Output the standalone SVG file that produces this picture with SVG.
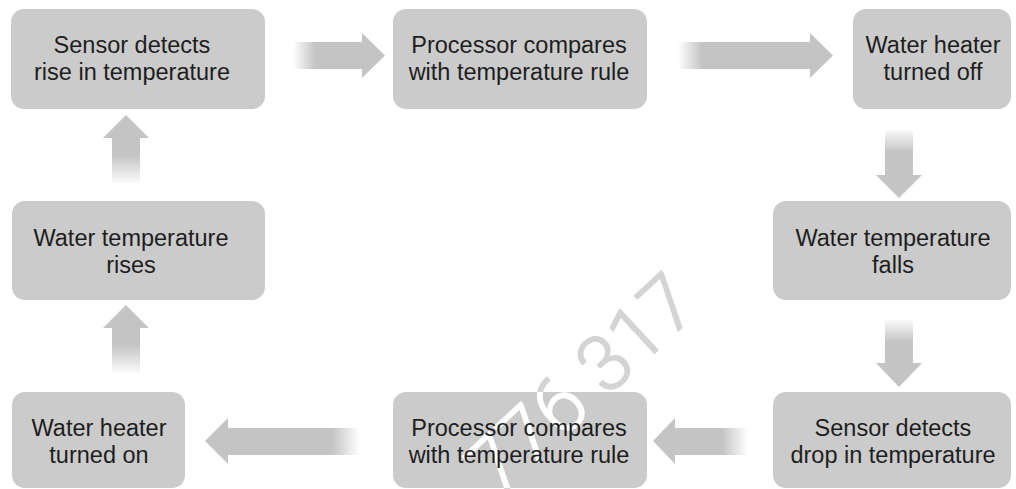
<svg xmlns="http://www.w3.org/2000/svg" width="1016" height="489" viewBox="0 0 1016 489">
<style>
.box{fill:#cbcbcb}
.lbl{font-family:"Liberation Sans",Arial,sans-serif;font-size:23.5px;fill:#1e1e1e;text-anchor:middle}
.wm{font-family:Roboto,"Liberation Sans",sans-serif;font-weight:300;font-size:78px;text-anchor:middle;stroke-width:1.6px;stroke-linejoin:round}
</style>
<defs>
<linearGradient id="gA" gradientUnits="userSpaceOnUse" x1="293" y1="0" x2="315" y2="0"><stop offset="0" stop-color="#c4c4c4" stop-opacity="0"/><stop offset="1" stop-color="#c4c4c4"/></linearGradient>
<linearGradient id="gB" gradientUnits="userSpaceOnUse" x1="678" y1="0" x2="702" y2="0"><stop offset="0" stop-color="#c4c4c4" stop-opacity="0"/><stop offset="1" stop-color="#c4c4c4"/></linearGradient>
<linearGradient id="gC" gradientUnits="userSpaceOnUse" x1="0" y1="128" x2="0" y2="152"><stop offset="0" stop-color="#c4c4c4" stop-opacity="0"/><stop offset="1" stop-color="#c4c4c4"/></linearGradient>
<linearGradient id="gD" gradientUnits="userSpaceOnUse" x1="0" y1="318" x2="0" y2="342"><stop offset="0" stop-color="#c4c4c4" stop-opacity="0"/><stop offset="1" stop-color="#c4c4c4"/></linearGradient>
<linearGradient id="gE" gradientUnits="userSpaceOnUse" x1="748" y1="0" x2="722" y2="0"><stop offset="0" stop-color="#c4c4c4" stop-opacity="0"/><stop offset="1" stop-color="#c4c4c4"/></linearGradient>
<linearGradient id="gF" gradientUnits="userSpaceOnUse" x1="360" y1="0" x2="332" y2="0"><stop offset="0" stop-color="#c4c4c4" stop-opacity="0"/><stop offset="1" stop-color="#c4c4c4"/></linearGradient>
<linearGradient id="gG" gradientUnits="userSpaceOnUse" x1="0" y1="375" x2="0" y2="345"><stop offset="0" stop-color="#c4c4c4" stop-opacity="0"/><stop offset="1" stop-color="#c4c4c4"/></linearGradient>
<linearGradient id="gH" gradientUnits="userSpaceOnUse" x1="0" y1="185" x2="0" y2="155"><stop offset="0" stop-color="#c4c4c4" stop-opacity="0"/><stop offset="1" stop-color="#c4c4c4"/></linearGradient>
<clipPath id="cp7"><rect x="393" y="392" width="254" height="96" rx="13"/></clipPath>
</defs>
<rect width="1016" height="489" fill="#fff"/>
<text class="wm" fill="#d4d4d4" stroke="#d4d4d4" transform="translate(600,404) rotate(-43)">776 317</text>
<g id="connectors">
<polygon fill="url(#gA)" points="293,42 362,42 362,33 385,55.5 362,78 362,69 293,69"/>
<polygon fill="url(#gB)" points="678,42 810,42 810,33 833,55.5 810,78 810,69 678,69"/>
<polygon fill="url(#gC)" points="885,130 913,130 913,175 922,175 899,198 876,175 885,175"/>
<polygon fill="url(#gD)" points="885,320 913,320 913,363 922,363 899,387 876,363 885,363"/>
<polygon fill="url(#gE)" points="748,428 675,428 675,418 653,441 675,464 675,455 748,455"/>
<polygon fill="url(#gF)" points="360,428 228,428 228,418 205,441 228,464 228,455 360,455"/>
<polygon fill="url(#gG)" points="112,373 112,328 103,328 126,305 149,328 140,328 140,373"/>
<polygon fill="url(#gH)" points="112,183 112,138 103,138 126,115 149,138 140,138 140,183"/>
</g>
<g id="n1"><rect class="box" x="11" y="9" width="254" height="100" rx="13"/><text class="lbl" x="132" y="53">Sensor detects</text><text class="lbl" x="132" y="80">rise in temperature</text></g>
<g id="n2"><rect class="box" x="393" y="9" width="254" height="100" rx="13"/><text class="lbl" x="519" y="53">Processor compares</text><text class="lbl" x="519" y="80">with temperature rule</text></g>
<g id="n3"><rect class="box" x="853" y="9" width="158" height="100" rx="13"/><text class="lbl" x="933" y="53">Water heater</text><text class="lbl" x="933" y="80">turned off</text></g>
<g id="n4"><rect class="box" x="773" y="201" width="238" height="99" rx="13"/><text class="lbl" x="893" y="246">Water temperature</text><text class="lbl" x="893" y="273">falls</text></g>
<g id="n5"><rect class="box" x="773" y="392" width="238" height="96" rx="13"/><text class="lbl" x="893" y="436">Sensor detects</text><text class="lbl" x="893" y="463">drop in temperature</text></g>
<g id="n6"><rect class="box" x="393" y="392" width="254" height="96" rx="13"/><g clip-path="url(#cp7)"><text class="wm" fill="#fff" stroke="#fff" transform="translate(600,404) rotate(-43)">776 317</text></g><text class="lbl" x="519" y="436">Processor compares</text><text class="lbl" x="519" y="463">with temperature rule</text></g>
<g id="n7"><rect class="box" x="12" y="392" width="173" height="96" rx="13"/><text class="lbl" x="99" y="436">Water heater</text><text class="lbl" x="99" y="463">turned on</text></g>
<g id="n8"><rect class="box" x="12" y="201" width="253" height="99" rx="13"/><text class="lbl" x="131" y="246">Water temperature</text><text class="lbl" x="131" y="273">rises</text></g>
</svg>
